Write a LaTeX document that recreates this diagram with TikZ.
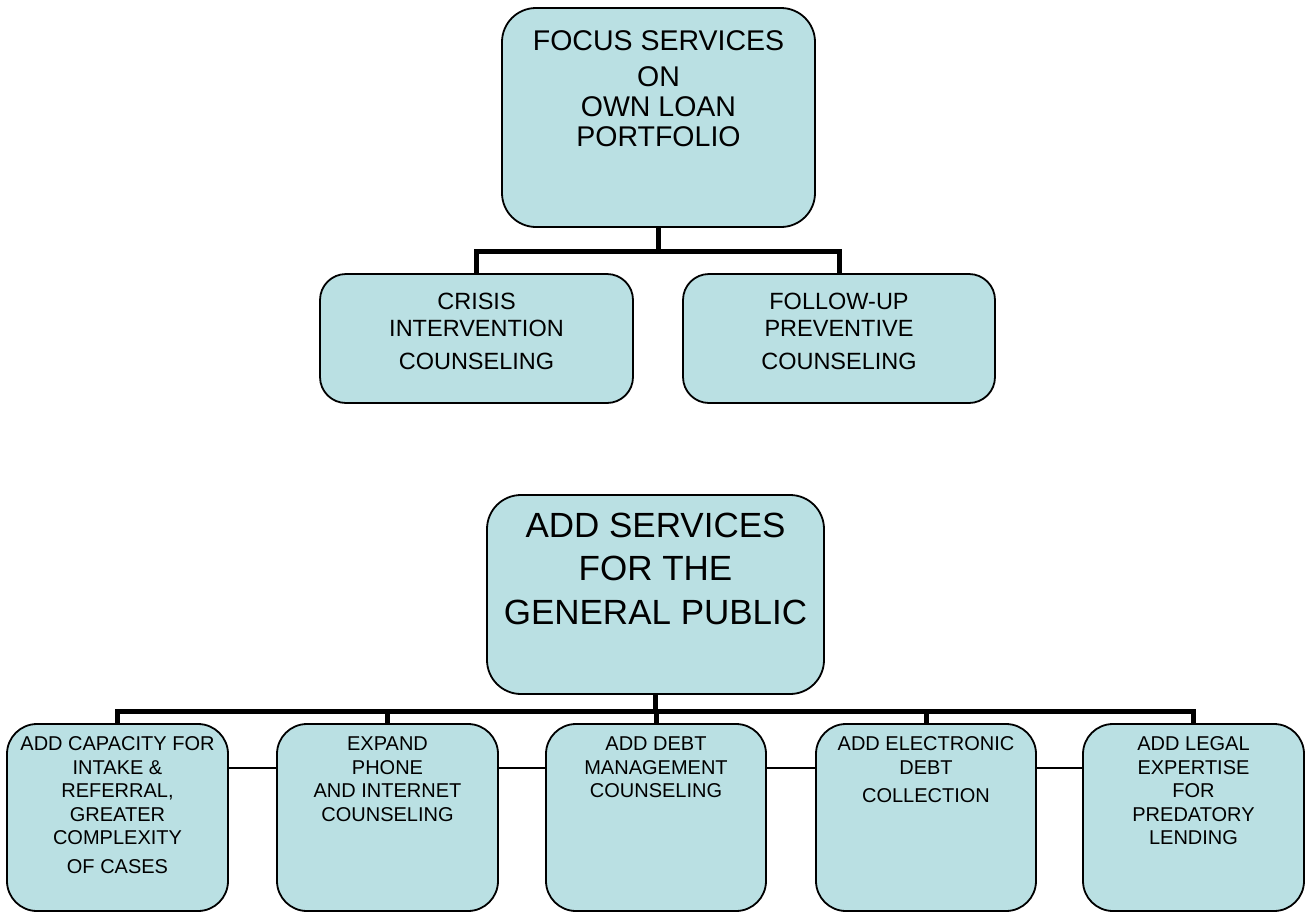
\documentclass[tikz,border=0pt]{standalone}
\usepackage{fontspec}
\setmainfont{Liberation Sans}
\usetikzlibrary{backgrounds}
\definecolor{boxfill}{RGB}{186,224,227}
\newcommand{\btext}[4]{\parbox[c][#2][t]{#1}{\centering\vspace*{#3}#4\par}}
\tikzset{
  card/.style={draw=black, line width=1.8pt, fill=boxfill, rounded corners=#1, inner sep=0pt, outer sep=0pt},
  card/.default=30pt,
  thickbar/.style={line width=5pt, line join=miter},
  thinlink/.style={line width=1.2pt},
}
\begin{document}
\begin{tikzpicture}[x=1pt, y=-1pt]
\useasboundingbox (0,0) rectangle (1306,913);
% upper part
\node[card=34pt] (top) at (658.5,117.5) {\btext{313pt}{219pt}{23pt}{\fontsize{28.5}{30}\selectfont FOCUS SERVICES\\[6pt]ON\\OWN LOAN\\PORTFOLIO}};
\node[card=26pt] (c1) at (476.5,338.5) {\btext{313pt}{129pt}{19pt}{\fontsize{23.5}{27}\selectfont CRISIS\\INTERVENTION\\[6pt]COUNSELING}};
\node[card=26pt] (c2) at (839,338.5) {\btext{312pt}{129pt}{19pt}{\fontsize{23.5}{27}\selectfont FOLLOW-UP\\PREVENTIVE\\[6pt]COUNSELING}};
% lower part
\node[card=34pt] (main) at (655.5,594.5) {\btext{337pt}{199pt}{18pt}{\fontsize{35}{43.5}\selectfont ADD SERVICES\\FOR THE\\GENERAL PUBLIC}};
\node[card=30pt] (b1) at (117.5,817.5) {\btext{221pt}{187pt}{13pt}{\fontsize{20}{23.5}\selectfont ADD CAPACITY FOR\\INTAKE \&\\REFERRAL,\\GREATER\\COMPLEXITY\\[5pt]OF CASES}};
\node[card=30pt] (b2) at (387.5,817.5) {\btext{221pt}{187pt}{13pt}{\fontsize{20}{23.5}\selectfont EXPAND\\PHONE\\AND INTERNET\\COUNSELING}};
\node[card=30pt] (b3) at (656,817.5) {\btext{220pt}{187pt}{13pt}{\fontsize{20}{23.5}\selectfont ADD DEBT\\MANAGEMENT\\COUNSELING}};
\node[card=30pt] (b4) at (926,817.5) {\btext{220pt}{187pt}{13pt}{\fontsize{20}{23.5}\selectfont ADD ELECTRONIC\\DEBT\\[5pt]COLLECTION}};
\node[card=30pt] (b5) at (1193.5,817.5) {\btext{221pt}{187pt}{13pt}{\fontsize{20}{23.5}\selectfont ADD LEGAL\\EXPERTISE\\FOR\\PREDATORY\\LENDING}};
\begin{scope}[on background layer]
  \coordinate (j1) at (658.5,251);
  \draw[thickbar] (top.south) -- (j1);
  \draw[thickbar] (c1.north) |- (j1) -| (c2.north);
  \coordinate (j2) at (655.5,711);
  \draw[thickbar] (main.south) -- (j2);
  \draw[thickbar] (b1.north) |- (j2) -| (b5.north);
  \draw[thickbar] (b2.north |- j2) -- (b2.north);
  \draw[thickbar] (b3.north |- j2) -- (b3.north);
  \draw[thickbar] (b4.north |- j2) -- (b4.north);
  \draw[thinlink] ([yshift=-44pt]b1.north east) -- ([yshift=-44pt]b2.north west);
  \draw[thinlink] ([yshift=-44pt]b2.north east) -- ([yshift=-44pt]b3.north west);
  \draw[thinlink] ([yshift=-44pt]b3.north east) -- ([yshift=-44pt]b4.north west);
  \draw[thinlink] ([yshift=-44pt]b4.north east) -- ([yshift=-44pt]b5.north west);
\end{scope}
\end{tikzpicture}
\end{document}
